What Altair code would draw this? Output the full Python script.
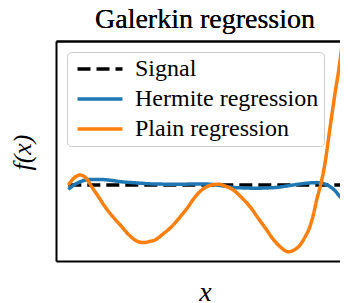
import altair as alt
import pandas as pd

series_names = ["Signal", "Hermite regression", "Plain regression"]
series_colors = ["#000000", "#1f77b4", "#ff7f0e"]
series_dashes = [[13, 6], [1, 0], [1, 0]]

signal_x = [-1.0, 1.0]
signal_y = [0.0, 0.0]

hermite_x = [-1.0, -0.958, -0.915, -0.871, -0.830, -0.769, -0.696, -0.611, -0.514,
             -0.369, -0.223, -0.004, 0.105, 0.202, 0.287, 0.372, 0.440, 0.518,
             0.600, 0.688, 0.753, 0.809, 0.855, 0.906, 0.942, 0.979, 1.0]
hermite_y = [-0.11, 0.0, 0.08, 0.125, 0.14, 0.14, 0.12, 0.08, 0.055,
             0.025, 0.02, 0.025, -0.0125, -0.06, -0.075, -0.08, -0.075, -0.06,
             -0.02, 0.025, 0.05, 0.06, 0.04, -0.04, -0.14, -0.29, -0.35]

plain_x = [-1.0, -0.958, -0.915, -0.871, -0.830, -0.784, -0.733, -0.674, -0.611,
           -0.565, -0.514, -0.454, -0.405, -0.369, -0.310, -0.247, -0.186, -0.126,
           -0.077, -0.028, 0.032, 0.092, 0.141, 0.202, 0.258, 0.323, 0.382,
           0.445, 0.491, 0.542, 0.602, 0.644, 0.688, 0.724, 0.760, 0.786,
           0.809, 0.828, 0.846, 0.870, 0.906, 0.942, 0.979, 1.0]
plain_y = [0.0, 0.175, 0.25, 0.175, -0.04, -0.275, -0.54, -0.80, -1.04,
           -1.225, -1.375, -1.44, -1.41, -1.375, -1.225, -1.04, -0.80, -0.54,
           -0.30, -0.125, -0.01, 0.02, -0.025, -0.125, -0.30, -0.54, -0.825,
           -1.125, -1.35, -1.54, -1.67, -1.625, -1.50, -1.30, -1.04, -0.725,
           -0.375, -0.125, 0.125, 0.55, 1.425, 2.275, 3.1, 3.7]

# visible window (the right part of the frame lies beyond the picture edge)
x_domain = [-1.0896, 0.979]
y_domain = [-1.9, 3.6]

frames = []
for name, xs, ys in [(series_names[0], signal_x, signal_y),
                     (series_names[1], hermite_x, hermite_y),
                     (series_names[2], plain_x, plain_y)]:
    frames.append(pd.DataFrame({"x": xs, "y": ys, "series": name}))
df = pd.concat(frames, ignore_index=True)

SERIF = "Liberation Serif, DejaVu Serif, serif"

color_enc = alt.Color(
    "series:N",
    scale=alt.Scale(domain=series_names, range=series_colors),
    legend=alt.Legend(
        title=None,
        orient="none",
        legendX=11,
        legendY=11,
        symbolType="M-2.25,0H2.25",
        symbolSize=400,
        symbolStrokeWidth=3.5,
        symbolOffset=16,
        labelOffset=23,
        labelFont=SERIF,
        labelFontSize=24,
        labelColor="black",
        labelLimit=400,
        padding=5,
        rowPadding=6,
        fillColor="rgba(255,255,255,0.85)",
        strokeColor="#cccccc",
        cornerRadius=4,
    ),
)
dash_enc = alt.StrokeDash(
    "series:N",
    scale=alt.Scale(domain=series_names, range=series_dashes),
    legend=None,
)

axis_common = dict(ticks=False, labels=False, grid=False,
                   domainColor="black", domainWidth=2)

x_bottom = alt.X("x:Q", scale=alt.Scale(domain=x_domain, nice=False, zero=False),
                 axis=alt.Axis(title="x", orient="bottom", titleFont=SERIF,
                               titleFontStyle="italic", titleFontSize=28,
                               titleFontWeight="normal", titleColor="black",
                               titleX=149, titleY=39, titleAlign="center",
                               titleBaseline="alphabetic", **axis_common))
x_top = alt.X("x:Q", scale=alt.Scale(domain=x_domain, nice=False, zero=False),
              axis=alt.Axis(title="Galerkin regression", orient="top",
                            titleFont=SERIF, titleFontSize=28,
                            titleFontWeight="normal", titleColor="black",
                            titleX=148.5, titleY=-14, titleAlign="center",
                            titleBaseline="alphabetic", **axis_common))
y_left = alt.Y("y:Q", scale=alt.Scale(domain=y_domain, nice=False, zero=False),
               axis=alt.Axis(title="f(x)", orient="left", titleFont=SERIF,
                             titleFontStyle="italic", titleFontSize=26,
                             titleFontWeight="normal", titleColor="black",
                             titleX=-34, titleY=111, titleAngle=270,
                             titleAlign="center", titleBaseline="middle",
                             **axis_common))

layers = []
for i, name in enumerate(series_names):
    layers.append(
        alt.Chart(df)
        .transform_filter(alt.datum.series == name)
        .mark_line(strokeWidth=3.5, interpolate="monotone", clip=True)
        .encode(x=x_bottom if i == 0 else x_top, y=y_left,
                color=color_enc, strokeDash=dash_enc, order="x:Q")
    )

chart = (
    alt.layer(*layers)
    .resolve_axis(x="independent")
    .properties(
        width=284,
        height=220,
        autosize=alt.AutoSizeParams(type="none"),
        padding={"left": 48, "top": 33, "right": 0, "bottom": 42},
    )
    .configure_view(strokeOpacity=0)
)

chart.save("out.html", embed_options={"renderer": "svg", "actions": False})
